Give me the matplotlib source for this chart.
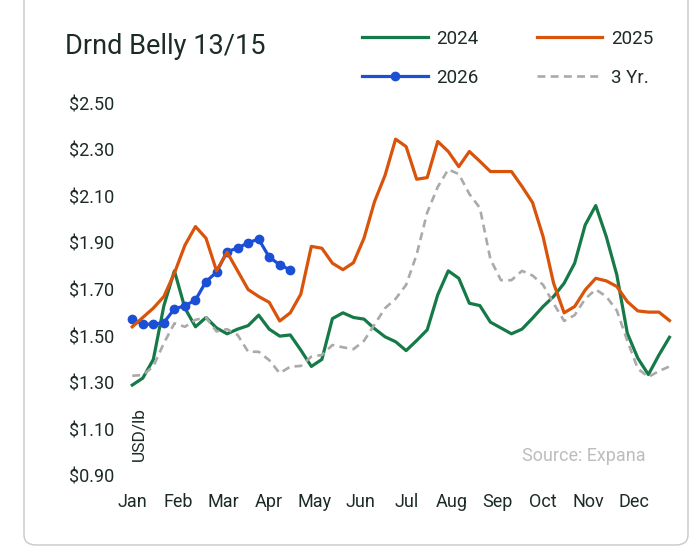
import numpy as np
import matplotlib.pyplot as plt
from matplotlib.patches import FancyBboxPatch

plt.rcParams['font.family'] = ['Roboto', 'DejaVu Sans']

# weekly prices, USD/lb
weeks = np.arange(52)
y2024 = [1.29, 1.32, 1.40, 1.63, 1.78, 1.62, 1.54, 1.58, 1.535, 1.51, 1.53, 1.545, 1.59,
         1.53, 1.50, 1.505, 1.44, 1.37, 1.40, 1.575, 1.60, 1.58, 1.573, 1.532, 1.497, 1.476,
         1.438, 1.481, 1.527, 1.677, 1.78, 1.748, 1.641, 1.631, 1.56, 1.535, 1.51, 1.53,
         1.577, 1.627, 1.67, 1.727, 1.813, 1.977, 2.06, 1.927, 1.763, 1.512, 1.405, 1.335,
         1.419, 1.495]
y2025 = [1.54, 1.58, 1.62, 1.67, 1.77, 1.89, 1.97, 1.92, 1.78, 1.86, 1.78, 1.70, 1.67,
         1.645, 1.565, 1.60, 1.68, 1.885, 1.877, 1.813, 1.785, 1.815, 1.92, 2.077, 2.19,
         2.345, 2.313, 2.173, 2.18, 2.335, 2.292, 2.227, 2.292, 2.25, 2.206, 2.206, 2.206,
         2.142, 2.073, 1.927, 1.727, 1.60, 1.627, 1.698, 1.748, 1.737, 1.713, 1.648, 1.608,
         1.603, 1.603, 1.567]
y2026 = [1.573, 1.551, 1.551, 1.558, 1.617, 1.630, 1.655, 1.734, 1.774, 1.863, 1.877,
         1.901, 1.916, 1.839, 1.806, 1.784]
y3yr = [1.33, 1.333, 1.37, 1.47, 1.555, 1.54, 1.57, 1.58, 1.52, 1.53, 1.505, 1.433, 1.433,
        1.397, 1.341, 1.369, 1.372, 1.412, 1.419, 1.462, 1.452, 1.444, 1.48, 1.55, 1.62,
        1.66, 1.72, 1.85, 2.03, 2.14, 2.215, 2.195, 2.11, 2.05, 1.83, 1.74, 1.74, 1.78,
        1.76, 1.72, 1.64, 1.565, 1.59, 1.66, 1.70, 1.67, 1.61, 1.48, 1.36, 1.325, 1.35, 1.37]
months = ['Jan', 'Feb', 'Mar', 'Apr', 'May', 'Jun', 'Jul', 'Aug', 'Sep', 'Oct', 'Nov', 'Dec']
yticks = [0.9, 1.1, 1.3, 1.5, 1.7, 1.9, 2.1, 2.3, 2.5]

txt = '#1c2b24'
fig = plt.figure(figsize=(6.91, 5.47), dpi=100)

# card background
card = FancyBboxPatch((24/691, 2/547), 664/691, 560/547, boxstyle='round,pad=0,rounding_size=0.018',
                      transform=fig.transFigure, facecolor='white', edgecolor='#c8c8c8', lw=1,
                      zorder=-5)
fig.patches.append(card)

ax = fig.add_axes([127/691, 1 - 476/547, 553/691, 373/547])
ax.set_facecolor('none')
ax.set_zorder(2)

ax.plot(weeks, y2024, color='#157a47', lw=2.3, label='2024')
ax.plot(weeks[:len(y2026)], y2026, color='#1a4fd6', lw=2.3, marker='o', ms=6, label='2026')
ax.plot(weeks, y2025, color='#d9530a', lw=2.3, label='2025')
ax.plot(weeks, y3yr, color='#aaaaaa', lw=1.9, ls=(0, (3, 2)), label='3 Yr.')

ax.set_xlim(-0.5, 52.0)
ax.set_ylim(0.9, 2.5)
ax.set_yticks(yticks)
ax.set_yticklabels(['${:.2f}'.format(v) for v in yticks])
ax.set_xticks(np.arange(12) * 52 / 12)
ax.set_xticklabels(months)
ax.tick_params(length=0, labelsize=13, colors=txt)
ax.tick_params(axis='y', pad=9)
ax.tick_params(axis='x', pad=12)
for s in ax.spines.values():
    s.set_visible(False)

ax.text(0.022, 0.113, 'USD/lb', rotation=90, transform=ax.transAxes, fontsize=12.5,
        color=txt, ha='center', va='center')
ax.text(0.937, 0.054, 'Source: Expana', transform=ax.transAxes, fontsize=13,
        color='#bdbdbd', ha='right', va='center')

fig.text(65/691, 1 - 47/547, 'Drnd Belly 13/15', fontsize=19.5, color=txt, va='center')

h, l = ax.get_legend_handles_labels()
fig.legend(h, l, ncol=2, loc='upper left', bbox_to_anchor=(362/691, 1 - 30/547),
           frameon=False, fontsize=13.5, handlelength=3.5, handletextpad=0.45,
           columnspacing=3.1, labelspacing=1.12, borderpad=0, borderaxespad=0,
           labelcolor=txt)

fig.savefig('out.png', dpi=100)
